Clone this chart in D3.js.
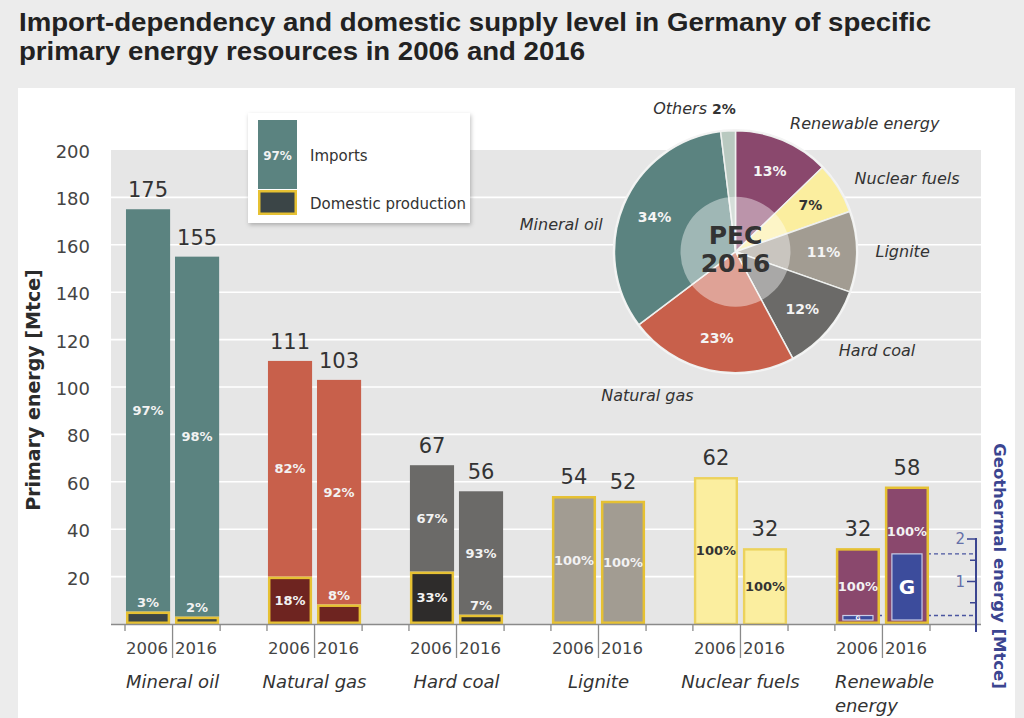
<!DOCTYPE html>
<html><head><meta charset="utf-8">
<script src="https://cdnjs.cloudflare.com/ajax/libs/d3/7.8.5/d3.min.js"></script>
<style>
html,body{margin:0;padding:0;background:#ececec;}
svg{display:block;font-family:"DejaVu Sans",sans-serif;}
</style></head>
<body>
<svg id="chart" width="1024" height="718"></svg>
<script>
// ---------- data ----------
const categories = ["Mineral oil","Natural gas","Hard coal","Lignite","Nuclear fuels","Renewable energy"];
const years = ["2006","2016"];
const total2006 = [175,111,67,54,62,32];
const total2016 = [155,103,56,52,32,58];
const importShare2006 = [97,82,67,0,100,0];
const importShare2016 = [98,92,93,0,100,0];
const domesticShare2006 = [3,18,33,100,0,100];
const domesticShare2016 = [2,8,7,100,0,100];
const geothermalYears = ["2006","2016"];
const geothermalValues = [0.2,1.65];   // Mtce, shown in the Renewable energy bars
const yTicks = [20,40,60,80,100,120,140,160,180,200];
const geoTicks = [1,2];
const geoMinorTicks = [0.5,1.5];
const pieLabels = ["Renewable energy","Nuclear fuels","Lignite","Hard coal","Natural gas","Mineral oil","Others"];
const pieShares = [13,7,11,12,23,34,2];

// ---------- styles ----------
const importColors   = ["#5b8380","#c8604b","#6b6a68","#a29c92","#fbee9f","#8a486d"];
const domesticColors = ["#3b4547","#6e2420","#2e2c2b","#a29c92","#fbee9f","#8a486d"];
const pieColors = ["#8a486d","#fbee9f","#a29c92","#6b6a68","#c8604b","#5b8380","#b9c9c0"];
const yellow = "#e6c133";

const svg = d3.select("#chart");

// background panels
svg.append("rect").attr("x",0).attr("y",0).attr("width",1024).attr("height",718).attr("fill","#ececec");
svg.append("rect").attr("x",18).attr("y",88).attr("width",997).attr("height",640).attr("fill","#ffffff");

// title
const title = svg.append("g").attr("font-family","'Liberation Sans',Arial,sans-serif").attr("font-weight","bold").attr("fill","#222").attr("font-size",26);
title.append("text").attr("x",19).attr("y",31).attr("textLength",912).attr("lengthAdjust","spacingAndGlyphs")
  .text("Import-dependency and domestic supply level in Germany of specific");
title.append("text").attr("x",19).attr("y",60).attr("textLength",566).attr("lengthAdjust","spacingAndGlyphs")
  .text("primary energy resources in 2006 and 2016");

// ---------- scales ----------
const plotL = 111, plotR = 981, plotT = 150, plotB = 624;
const y = d3.scaleLinear().domain([0,200]).range([plotB,plotT]);
const x = d3.scaleBand().domain(categories).range([125,930]).paddingInner(0.33).paddingOuter(0);
const xi = d3.scaleBand().domain(years).range([0,x.bandwidth()]).paddingInner(0.1).paddingOuter(0.02);
const geoY = d3.scaleLinear().domain([0,2]).range([plotB,539]);
const geoX = 976;

// plot background
svg.append("rect").attr("x",plotL).attr("y",plotT).attr("width",plotR-plotL).attr("height",plotB-plotT).attr("fill","#e6e6e6");
svg.append("g").selectAll("line").data(yTicks.filter(d=>d<200)).join("line")
  .attr("x1",plotL).attr("x2",plotR).attr("y1",d=>y(d)).attr("y2",d=>y(d))
  .attr("stroke","#ffffff").attr("stroke-width",1.6);

// y axis
const yAxis = svg.append("g").attr("transform",`translate(${plotL},0)`)
  .call(d3.axisLeft(y).tickValues(yTicks).tickSize(0).tickPadding(21));
yAxis.select(".domain").remove();
yAxis.selectAll("text").attr("font-size",18).attr("fill","#444").attr("font-family","'DejaVu Sans',sans-serif").attr("dy","0.42em");
svg.append("text").attr("transform",`translate(40,${(y(0)+y(200))/2+3}) rotate(-90)`)
  .attr("text-anchor","middle").attr("font-size",19).attr("font-weight","bold").attr("fill","#2b2b2b")
  .text("Primary energy [Mtce]");

// build bar records
const records = [];
categories.forEach((c,ci)=>{
  years.forEach((yr,yi)=>{
    const total = yi===0 ? total2006[ci] : total2016[ci];
    const imp = yi===0 ? importShare2006[ci] : importShare2016[ci];
    const dom = yi===0 ? domesticShare2006[ci] : domesticShare2016[ci];
    records.push({c,ci,yr,yi,total,imp,dom,domVal: total*dom/100});
  });
});

// geothermal dashed reference lines (behind bars)
const renew = categories[5];
const geoRecs = geothermalYears.map((yr,i)=>({yr, v: geothermalValues[i]}));
svg.append("g").selectAll("line").data(geoRecs).join("line")
  .attr("x1",d=>x(renew)+xi(d.yr)+xi.bandwidth()-2).attr("x2",geoX)
  .attr("y1",d=>geoY(d.v)).attr("y2",d=>geoY(d.v))
  .attr("stroke","#4a55a0").attr("stroke-width",1.3).attr("stroke-dasharray","4,3");

// bars
const bars = svg.append("g");
records.forEach(r=>{
  const bx = x(r.c)+xi(r.yr), bw = xi.bandwidth();
  const g = bars.append("g");
  if (r.imp>0){
    const nuclear = r.ci===4;
    g.append("rect").attr("x",bx+(nuclear?1.2:0)).attr("width",bw-(nuclear?2.4:0))
      .attr("y",y(r.total)+(nuclear?1.2:0)).attr("height",y(r.domVal)-y(r.total)-(nuclear?1.2:0))
      .attr("fill",importColors[r.ci])
      .attr("stroke",nuclear?"#ecd25c":"none").attr("stroke-width",2.4);
  }
  if (r.dom>0){
    g.append("rect").attr("x",bx+1.25).attr("width",bw-2.5)
      .attr("y",y(r.domVal)+1.25).attr("height",y(0)-y(r.domVal)-2.5)
      .attr("fill",domesticColors[r.ci]).attr("stroke",yellow).attr("stroke-width",2.5);
  }
});

// geothermal bars
const gBars = svg.append("g");
geoRecs.forEach(d=>{
  const bx = x(renew)+xi(d.yr)+7, bw = xi.bandwidth()-14;
  const top = geoY(d.v), bot = y(0)-4;
  gBars.append("rect").attr("x",bx).attr("y",top).attr("width",bw).attr("height",bot-top)
    .attr("fill","#3c4c9c").attr("stroke","#c9cde8").attr("stroke-width",1.2);
  const fs = (bot-top)>20 ? 20 : 6;
  gBars.append("text").attr("x",bx+bw/2).attr("y",(top+bot)/2).attr("dy","0.36em")
    .attr("text-anchor","middle").attr("font-size",fs).attr("font-weight","bold").attr("fill","#fff").text("G");
});

// percentage labels
const pct = svg.append("g").attr("font-size",13).attr("font-weight","bold").attr("text-anchor","middle");
records.forEach(r=>{
  const cx = x(r.c)+xi(r.yr)+xi.bandwidth()/2;
  const col = r.ci===4 ? "#333" : "#f2f2f2";
  if (r.imp>0){
    pct.append("text").attr("x",cx).attr("y",(y(r.total)+y(r.domVal))/2).attr("dy","0.36em").attr("fill",col).text(r.imp+"%");
  }
  if (r.dom>0){
    const h = y(0)-y(r.domVal);
    let ly;
    const gi = r.ci===5 ? geothermalYears.indexOf(r.yr) : -1;
    if (gi>=0 && (y(0)-geoY(geothermalValues[gi]))>20) ly = geoY(geothermalValues[gi]) - 23;
    else if (h>=25) ly = (y(r.domVal)+y(0))/2;
    else ly = y(r.domVal) - 9;
    pct.append("text").attr("x",cx).attr("y",ly).attr("dy","0.36em").attr("fill",col).text(r.dom+"%");
  }
});

// total value labels
svg.append("g").selectAll("text").data(records).join("text")
  .attr("x",r=>x(r.c)+xi(r.yr)+xi.bandwidth()/2).attr("y",r=>y(r.total)-12)
  .attr("text-anchor","middle").attr("font-size",21).attr("fill","#333").text(r=>r.total);

// x axis
svg.append("line").attr("x1",plotL).attr("x2",plotR).attr("y1",plotB+0.5).attr("y2",plotB+0.5).attr("stroke","#8a8a8a").attr("stroke-width",1.5);
const xa = svg.append("g").attr("stroke","#8a8a8a").attr("stroke-width",1.3);
categories.forEach(c=>{
  const x0 = x(c), bw = x.bandwidth();
  [x0, x0+bw].forEach(xx=>xa.append("line").attr("x1",xx).attr("x2",xx).attr("y1",plotB).attr("y2",plotB+7));
  xa.append("line").attr("x1",x0+bw/2).attr("x2",x0+bw/2).attr("y1",plotB).attr("y2",plotB+34);
});
const yl = svg.append("g").attr("font-size",16.5).attr("fill","#444").attr("text-anchor","middle");
categories.forEach(c=>{
  years.forEach(yr=>{
    yl.append("text").attr("x",x(c)+xi(yr)+xi.bandwidth()/2-1).attr("y",654).text(yr);
  });
});
const cl = svg.append("g").attr("font-size",18).attr("font-style","italic").attr("fill","#333");
categories.forEach((c,ci)=>{
  if (c==="Renewable energy"){
    const t = cl.append("text").attr("x",x(c)).attr("y",688);
    t.append("tspan").attr("x",x(c)).text("Renewable");
    t.append("tspan").attr("x",x(c)).attr("dy",24).text("energy");
  } else {
    cl.append("text").attr("x",x(c)+x.bandwidth()/2).attr("y",688).attr("text-anchor","middle").text(c);
  }
});

// geothermal axis
const ga = svg.append("g").attr("stroke","#3b4590");
ga.append("line").attr("x1",geoX).attr("x2",geoX).attr("y1",geoY(2)-1).attr("y2",plotB+8).attr("stroke-width",2);
ga.selectAll(".maj").data(geoTicks).join("line").attr("x1",geoX-9).attr("x2",geoX).attr("y1",d=>geoY(d)).attr("y2",d=>geoY(d)).attr("stroke-width",1.5);
ga.selectAll(".min").data(geoMinorTicks).join("line").attr("x1",geoX-6).attr("x2",geoX).attr("y1",d=>geoY(d)).attr("y2",d=>geoY(d)).attr("stroke-width",1.5);
svg.append("g").selectAll("text").data(geoTicks).join("text")
  .attr("x",geoX-11).attr("y",d=>geoY(d)).attr("dy","0.36em").attr("text-anchor","end")
  .attr("font-size",15).attr("fill","#6570a8").text(d=>d);
svg.append("text").attr("transform","translate(994,566) rotate(90)").attr("text-anchor","middle")
  .attr("font-size",16.5).attr("font-weight","bold").attr("fill","#3b4590").text("Geothermal energy [Mtce]");

// ---------- pie ----------
const pc = {x:735.5, y:251.7}, R = 121;
const pie = d3.pie().sort(null).value(d=>d.v);
const pieData = pie(pieLabels.map((l,i)=>({l, v: pieShares[i], i})));
const arc = d3.arc().innerRadius(0).outerRadius(R);
const pg = svg.append("g").attr("transform",`translate(${pc.x},${pc.y})`);
pg.selectAll("path").data(pieData).join("path").attr("d",arc)
  .attr("fill",d=>pieColors[d.data.i]).attr("stroke","#eef0ee").attr("stroke-width",1.5);
pg.append("circle").attr("r",R+1).attr("fill","none").attr("stroke","#f4f4f4").attr("stroke-width",1.5);
pg.append("circle").attr("r",55).attr("fill","#ffffff").attr("fill-opacity",0.42);
const lblArc = d3.arc().innerRadius(88).outerRadius(88);
pg.selectAll(".pl").data(pieData.filter(d=>d.data.l!=="Others")).join("text")
  .attr("transform",d=>`translate(${lblArc.centroid(d)})`).attr("dy","0.36em")
  .attr("text-anchor","middle").attr("font-size",14).attr("font-weight","bold")
  .attr("fill",d=>d.data.l==="Nuclear fuels"?"#333":"#f4f4f4").text(d=>d.data.v+"%");
pg.append("text").attr("y",-17).attr("dy","0.36em").attr("text-anchor","middle").attr("font-size",25).attr("font-weight","bold").attr("fill","#333").text("PEC");
pg.append("text").attr("y",11).attr("dy","0.36em").attr("text-anchor","middle").attr("font-size",25).attr("font-weight","bold").attr("fill","#333").text("2016");
// outer labels
const labelNudge = {"Others":[9,-4],"Hard coal":[-3,7],"Natural gas":[-12,7],"Mineral oil":[-4,27]};
const outArc = d3.arc().innerRadius(140).outerRadius(140);
pieData.forEach(d=>{
  const [cx,cy] = outArc.centroid(d);
  const n = labelNudge[d.data.l] || [0,0];
  const mid = (d.startAngle+d.endAngle)/2;
  const right = Math.sin(mid) > 0.05;
  const t = pg.append("text").attr("x",cx+n[0]).attr("y",cy+n[1]).attr("dy","0.36em")
    .attr("text-anchor",right?"start":"end").attr("font-size",16).attr("fill","#333");
  if (d.data.l==="Others"){
    t.append("tspan").attr("font-style","italic").text("Others ");
    t.append("tspan").attr("font-weight","bold").attr("font-size",14).text(d.data.v+"%");
  } else {
    t.attr("font-style","italic").text(d.data.l);
  }
});

// ---------- legend ----------
const defs = svg.append("defs");
const f = defs.append("filter").attr("id","sh").attr("x","-10%").attr("y","-10%").attr("width","130%").attr("height","140%");
f.append("feDropShadow").attr("dx",1).attr("dy",2).attr("stdDeviation",2).attr("flood-color","#000").attr("flood-opacity",0.25);
const lg = svg.append("g");
lg.append("rect").attr("x",248).attr("y",113).attr("width",222).attr("height",110).attr("fill","#fff").attr("filter","url(#sh)");
lg.append("rect").attr("x",258).attr("y",120).attr("width",39).attr("height",69).attr("fill",importColors[0]);
lg.append("text").attr("x",277.5).attr("y",156).attr("dy","0.36em").attr("text-anchor","middle").attr("font-size",12).attr("font-weight","bold").attr("fill","#f2f2f2").text("97%");
lg.append("rect").attr("x",259.25).attr("y",191.25).attr("width",36.5).attr("height",22.5).attr("fill",domesticColors[0]).attr("stroke",yellow).attr("stroke-width",2.5);
lg.append("text").attr("x",310).attr("y",156).attr("dy","0.36em").attr("font-size",15).attr("fill","#333").text("Imports");
lg.append("text").attr("x",310).attr("y",204).attr("dy","0.36em").attr("font-size",15).attr("fill","#333").text("Domestic production");
</script>
</body></html>
